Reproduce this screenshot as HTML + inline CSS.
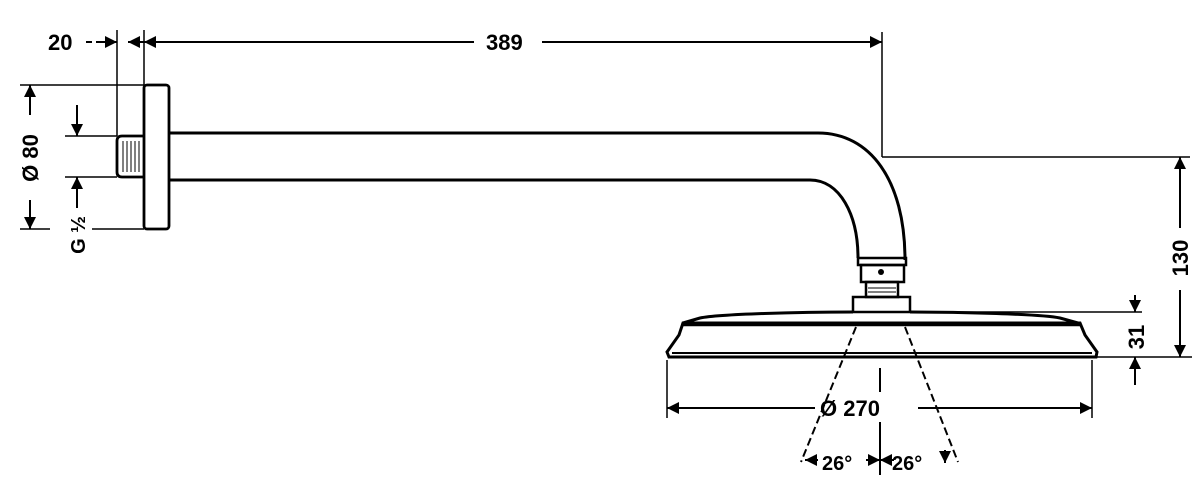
<!DOCTYPE html>
<html><head><style>body{margin:0;background:#fff}svg{display:block}text{font-family:"Liberation Sans",sans-serif;font-weight:bold;fill:#000}</style></head>
<body>
<svg width="1200" height="504" viewBox="0 0 1200 504" xmlns="http://www.w3.org/2000/svg">
<defs>
<marker id="a" viewBox="0 0 10 10" refX="10" refY="5" markerWidth="12" markerHeight="12" orient="auto-start-reverse" markerUnits="userSpaceOnUse"><path d="M0,0L10,5L0,10z" fill="#000"/></marker>
</defs>
<g stroke="#000" fill="none" stroke-width="2">
<line x1="117" y1="30" x2="117" y2="136" stroke-width="1.5"/>
<line x1="144" y1="30" x2="144" y2="86" stroke-width="1.5"/>
<line x1="882" y1="32" x2="882" y2="157" stroke-width="1.5"/>
<line x1="86" y1="42" x2="106" y2="42" stroke-dasharray="6,4"/>
<line x1="100" y1="42" x2="117" y2="42" marker-end="url(#a)"/>
<line x1="128" y1="42" x2="144" y2="42" marker-start="url(#a)"/>
<line x1="144" y1="42" x2="474" y2="42" marker-start="url(#a)"/>
<line x1="542" y1="42" x2="882" y2="42" marker-end="url(#a)"/>
<rect x="144" y="85" width="25" height="144" rx="3" stroke-width="2.8"/>
<path d="M144,136H122Q117,136 117,141V172Q117,177 122,177H144" stroke-width="2.8"/>
<g stroke-width="1"><line x1="123" y1="141" x2="123" y2="172"/><line x1="127" y1="141" x2="127" y2="172"/><line x1="131" y1="141" x2="131" y2="172"/><line x1="135" y1="141" x2="135" y2="172"/><line x1="139" y1="141" x2="139" y2="172"/></g>
<path d="M169,133H818C870,133 905,180 905,260" stroke-width="3"/>
<path d="M169,180H810C840,180 858,215 858,258" stroke-width="3"/>
<rect x="858" y="258" width="48" height="7" stroke-width="2.5"/>
<rect x="861" y="265" width="43" height="17" stroke-width="2.5"/>
<circle cx="881" cy="272" r="3" fill="#000" stroke="none"/>
<rect x="866" y="282" width="32" height="15" stroke-width="2.5"/>
<line x1="868" y1="288" x2="896" y2="288" stroke-width="1"/><line x1="868" y1="292" x2="896" y2="292" stroke-width="1"/>
<rect x="853" y="297" width="57" height="15" stroke-width="2.5"/>
<path d="M853,312C800,312 720,314 700,318L683,323" stroke-width="3"/>
<path d="M910,312C960,312 1040,314 1060,318L1078,323" stroke-width="3"/>
<path d="M683,323L679,335L667,352L669,357H1096L1097,352L1085,335L1080,323Z" stroke-width="3"/>
<line x1="681" y1="325" x2="1081" y2="325" stroke-width="2.5"/>
<line x1="672" y1="353" x2="1092" y2="353" stroke-width="2"/>
<line x1="856" y1="327" x2="801" y2="462" stroke-dasharray="8,4"/>
<line x1="905" y1="327" x2="958" y2="462" stroke-dasharray="8,4"/>
<line x1="880" y1="368" x2="880" y2="392"/>
<line x1="880" y1="422" x2="880" y2="475"/>
<line x1="805" y1="460" x2="818" y2="460" marker-start="url(#a)"/>
<line x1="866" y1="460" x2="880" y2="460" marker-end="url(#a)"/>
<line x1="894" y1="460" x2="880" y2="460" marker-end="url(#a)"/>
<line x1="945" y1="450" x2="945" y2="463" marker-end="url(#a)"/>
<line x1="667" y1="360" x2="667" y2="418" stroke-width="1.5"/>
<line x1="1092" y1="360" x2="1092" y2="418" stroke-width="1.5"/>
<line x1="667" y1="408" x2="815" y2="408" marker-start="url(#a)"/>
<line x1="918" y1="408" x2="1092" y2="408" marker-end="url(#a)"/>
<line x1="882" y1="157" x2="1190" y2="157" stroke-width="1.5"/>
<line x1="1180" y1="157" x2="1180" y2="228" marker-start="url(#a)"/>
<line x1="1180" y1="290" x2="1180" y2="357" marker-end="url(#a)"/>
<line x1="910" y1="312" x2="1142" y2="312" stroke-width="1.5"/>
<line x1="1097" y1="357" x2="1192" y2="357" stroke-width="1.5"/>
<line x1="1135" y1="295" x2="1135" y2="312" marker-end="url(#a)"/>
<line x1="1135" y1="385" x2="1135" y2="357" marker-end="url(#a)"/>
<line x1="20" y1="85" x2="144" y2="85" stroke-width="1.5"/>
<line x1="20" y1="229" x2="50" y2="229" stroke-width="1.5"/>
<line x1="92" y1="229" x2="144" y2="229" stroke-width="1.5"/>
<line x1="65" y1="136" x2="117" y2="136" stroke-width="1.5"/>
<line x1="65" y1="177" x2="117" y2="177" stroke-width="1.5"/>
<line x1="30" y1="115" x2="30" y2="85" marker-end="url(#a)"/>
<line x1="30" y1="200" x2="30" y2="229" marker-end="url(#a)"/>
<line x1="77" y1="105" x2="77" y2="136" marker-end="url(#a)"/>
<line x1="77" y1="208" x2="77" y2="177" marker-end="url(#a)"/>
</g>
<text x="48" y="50" font-size="22">20</text>
<text x="486" y="50" font-size="22">389</text>
<text x="820" y="416" font-size="22">Ø 270</text>
<text x="822" y="470" font-size="20">26°</text>
<text x="892" y="470" font-size="20">26°</text>
<text transform="translate(1188,258) rotate(-90)" font-size="22" text-anchor="middle">130</text>
<text transform="translate(1144,337) rotate(-90)" font-size="22" text-anchor="middle">31</text>
<text transform="translate(38,158) rotate(-90)" font-size="22" text-anchor="middle">Ø 80</text>
<text transform="translate(85,235) rotate(-90)" font-size="20" text-anchor="middle">G ½</text>
</svg>
</body></html>
